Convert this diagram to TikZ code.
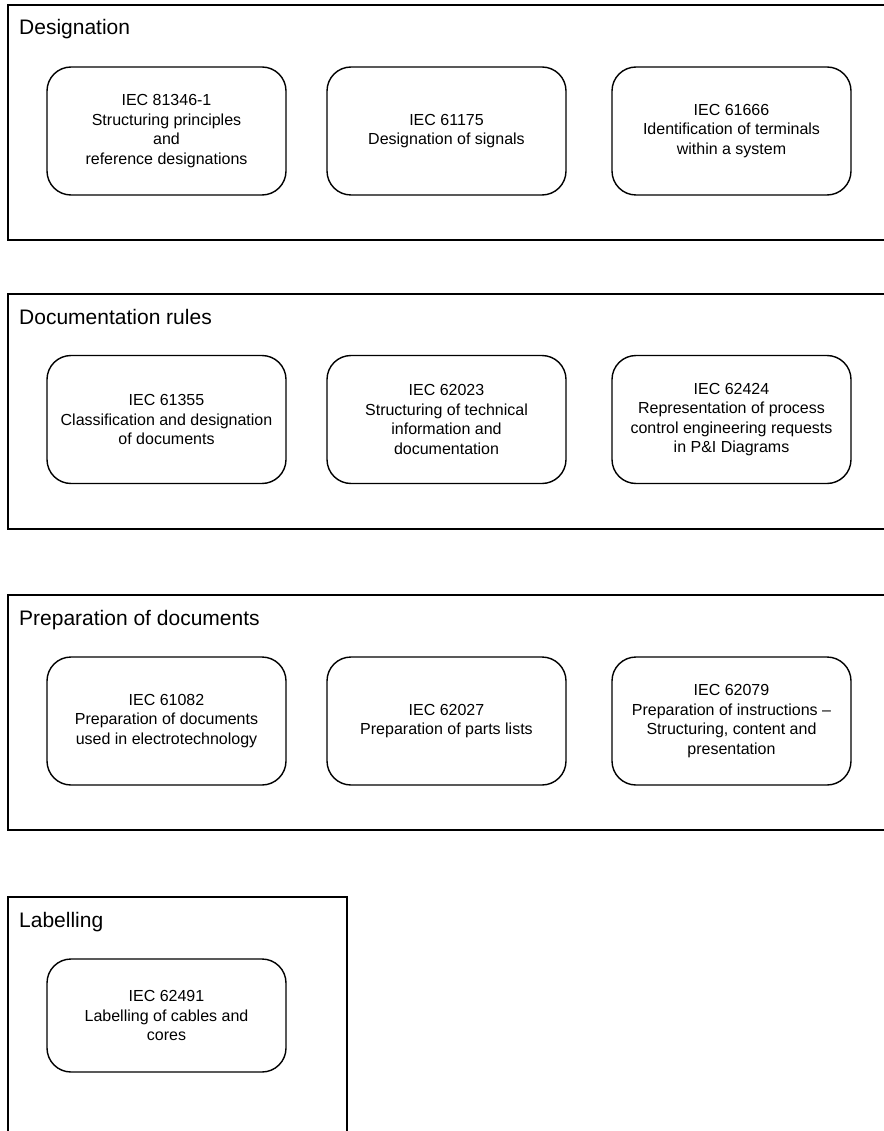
\documentclass[tikz,border=0pt]{standalone}
\usepackage{fontspec}
\setmainfont{Liberation Sans}

\begin{document}
\begin{tikzpicture}[x=1pt,y=-1pt,
    group/.style={draw,line width=2.6pt},
    grouptitle/.style={anchor=base west,inner sep=0pt,font=\fontsize{21}{25}\selectfont},
    stdbox/.style={draw,line width=1.4pt,rounded corners=24pt,minimum width=239pt,minimum height=128pt,
      align=center,inner sep=2pt,font=\fontsize{16}{19.5}\selectfont}]
  \useasboundingbox (0,0) rectangle (883,1131);
  % groups
  \foreach \t/\b/\r/\name [count=\g] in {5/240/900/Designation,294/529/900/Documentation rules,
      595/830/900/Preparation of documents,897/1150/347/Labelling}{
    \draw [group] (8,\t) rectangle (\r,\b);
    \node [grouptitle] (title-\g) at (19,\t+30) {\name};
  }
  % standards
  \node [stdbox] (std-1-1) at (166.5,131) {IEC 81346-1\\Structuring principles\\and\\reference designations};
  \node [stdbox] (std-1-2) at (446.5,131) {IEC 61175\\Designation of signals};
  \node [stdbox] (std-1-3) at (731.5,131) {IEC 61666\\Identification of terminals\\within a system};
  \node [stdbox] (std-2-1) at (166.5,419.5) {IEC 61355\\Classification and designation\\of documents};
  \node [stdbox] (std-2-2) at (446.5,419.5) {IEC 62023\\Structuring of technical\\information and\\documentation};
  \node [stdbox] (std-2-3) at (731.5,419.5) {IEC 62424\\Representation of process\\control engineering requests\\in P\&I Diagrams};
  \node [stdbox] (std-3-1) at (166.5,721) {IEC 61082\\Preparation of documents\\used in electrotechnology};
  \node [stdbox] (std-3-2) at (446.5,721) {IEC 62027\\Preparation of parts lists};
  \node [stdbox] (std-3-3) at (731.5,721) {IEC 62079\\Preparation of instructions --\\Structuring, content and\\presentation};
  \node [stdbox,minimum height=113pt] (std-4-1) at (166.5,1015.5) {IEC 62491\\Labelling of cables and\\cores};
\end{tikzpicture}
\end{document}
